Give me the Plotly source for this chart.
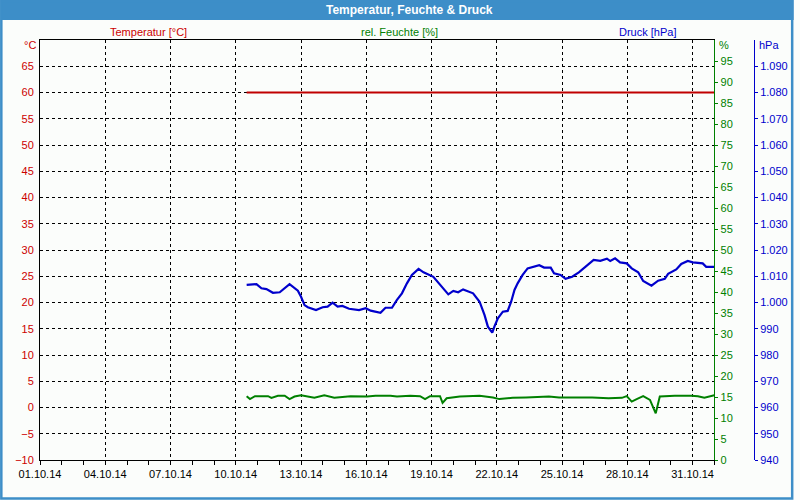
import plotly.graph_objects as go
from datetime import datetime

# ---------------- data ----------------
temp_times = ["2014-10-10 12:00", "2014-11-01 00:00"]
temp_values = [60, 60]

hum_times = [
    "2014-10-10 12:00", "2014-10-10 15:40", "2014-10-10 21:10", "2014-10-11 11:40",
    "2014-10-11 15:20", "2014-10-11 22:30", "2014-10-12 06:00", "2014-10-12 11:20",
    "2014-10-12 16:50", "2014-10-13 00:00", "2014-10-13 14:40", "2014-10-14 01:40",
    "2014-10-14 12:40", "2014-10-15 06:40", "2014-10-16 01:00", "2014-10-16 10:10",
    "2014-10-17 02:40", "2014-10-17 09:50", "2014-10-18 00:30", "2014-10-18 11:20",
    "2014-10-18 16:50", "2014-10-18 22:20", "2014-10-19 09:20", "2014-10-19 12:10",
    "2014-10-19 16:40", "2014-10-20 07:10", "2014-10-21 05:00", "2014-10-21 19:40",
    "2014-10-22 02:50", "2014-10-22 17:30", "2014-10-23 08:10", "2014-10-24 09:30",
    "2014-10-24 20:40", "2014-10-26 09:10", "2014-10-27 03:20", "2014-10-27 18:00",
    "2014-10-27 23:20", "2014-10-28 04:50", "2014-10-28 10:20", "2014-10-28 17:30",
    "2014-10-29 01:00", "2014-10-29 07:20", "2014-10-29 11:50", "2014-10-30 04:20",
    "2014-10-30 22:30", "2014-10-31 05:50", "2014-10-31 13:00", "2014-11-01 00:00",
]
hum_values = [
    15.2, 14.5, 15.2, 15.2, 14.8, 15.3, 15.3, 14.5,
    15.1, 15.4, 14.8, 15.4, 14.8, 15.2, 15.1, 15.3,
    15.3, 15.1, 15.3, 15.2, 14.5, 15.2, 15.2, 13.6,
    14.7, 15.1, 15.3, 14.9, 14.5, 14.8, 14.9, 15.1,
    14.9, 14.9, 14.7, 14.8, 15.2, 13.9, 14.5, 15.2,
    14.3, 11.1, 15.1, 15.3, 15.3, 15.2, 14.8, 15.4,
]

pres_times = [
    "2014-10-10 12:00", "2014-10-10 22:50", "2014-10-11 04:20", "2014-10-11 09:50",
    "2014-10-11 17:00", "2014-10-12 00:30", "2014-10-12 11:20", "2014-10-12 15:00",
    "2014-10-12 20:30", "2014-10-13 00:00", "2014-10-13 03:50", "2014-10-13 07:30",
    "2014-10-13 16:30", "2014-10-13 23:50", "2014-10-14 05:20", "2014-10-14 10:50",
    "2014-10-14 16:20", "2014-10-14 21:40", "2014-10-15 05:00", "2014-10-15 16:00",
    "2014-10-15 23:20", "2014-10-16 04:50", "2014-10-16 15:40", "2014-10-16 21:10",
    "2014-10-17 04:20", "2014-10-17 09:50", "2014-10-17 15:20", "2014-10-17 20:50",
    "2014-10-18 02:20", "2014-10-18 09:40", "2014-10-18 15:10", "2014-10-19 02:00",
    "2014-10-19 09:20", "2014-10-19 18:30", "2014-10-20 00:00", "2014-10-20 05:20",
    "2014-10-20 10:50", "2014-10-20 21:50", "2014-10-21 05:00", "2014-10-21 10:30",
    "2014-10-21 14:10", "2014-10-21 19:00", "2014-10-21 21:20", "2014-10-22 01:10",
    "2014-10-22 06:40", "2014-10-22 12:00", "2014-10-22 15:50", "2014-10-22 19:30",
    "2014-10-22 23:00", "2014-10-23 04:30", "2014-10-23 10:00", "2014-10-23 15:30",
    "2014-10-23 22:50", "2014-10-24 04:10", "2014-10-24 11:30", "2014-10-24 15:10",
    "2014-10-24 22:20", "2014-10-25 03:50", "2014-10-25 11:10", "2014-10-25 18:30",
    "2014-10-26 01:40", "2014-10-26 10:50", "2014-10-26 18:10", "2014-10-27 01:30",
    "2014-10-27 05:10", "2014-10-27 10:30", "2014-10-27 16:00", "2014-10-27 23:20",
    "2014-10-28 04:50", "2014-10-28 12:00", "2014-10-28 17:30", "2014-10-29 02:40",
    "2014-10-29 10:00", "2014-10-29 17:20", "2014-10-29 21:00", "2014-10-30 06:00",
    "2014-10-30 11:30", "2014-10-30 18:40", "2014-10-31 00:20", "2014-10-31 11:10",
    "2014-10-31 15:00", "2014-11-01 00:00",
]
pres_values = [
    1006.7, 1007.0, 1005.4, 1005.1, 1003.7, 1003.9, 1007.0, 1006.0,
    1004.5, 1002.2, 999.0, 998.2, 997.1, 998.2, 998.4, 999.9,
    998.4, 998.7, 997.6, 997.1, 997.8, 996.9, 996.1, 998.0,
    998.0, 1001.0, 1003.5, 1007.3, 1010.5, 1012.8, 1011.5, 1009.8,
    1006.7, 1003.1, 1004.4, 1003.9, 1005.0, 1003.5, 1000.3, 995.2,
    990.8, 988.5, 990.8, 994.0, 996.5, 996.8, 1000.3, 1004.8,
    1007.3, 1010.5, 1013.0, 1013.6, 1014.2, 1013.3, 1013.3, 1011.1,
    1010.5, 1009.0, 1009.8, 1011.5, 1013.6, 1016.2, 1015.9, 1016.7,
    1015.8, 1016.8, 1015.3, 1014.9, 1013.0, 1011.5, 1008.2, 1006.4,
    1008.3, 1009.0, 1010.9, 1012.6, 1014.7, 1015.8, 1015.3, 1014.9,
    1013.6, 1013.6,
]

x_tick_labels = ["01.10.14", "04.10.14", "07.10.14", "10.10.14", "13.10.14", "16.10.14",
                 "19.10.14", "22.10.14", "25.10.14", "28.10.14", "31.10.14"]
temp_ticks = list(range(-10, 70, 5))
hum_ticks = list(range(0, 100, 5))
pres_ticks = list(range(940, 1100, 10))

title_text = "Temperatur, Feuchte & Druck"
series_names = ["Temperatur [°C]", "rel. Feuchte [%]", "Druck [hPa]"]
unit_labels = ["°C", "%", "hPa"]

# ---------------- styles ----------------
RED = "#cc0000"
GREEN = "#008000"
BLUE = "#0000cc"
FRAME_BLUE = "#3d8ec8"
BG = "#fbfdfb"
FONT = "Liberation Sans"

W, H = 800, 500
ML, MR, MT, MB = 40, 40, 40, 40
PW = W - ML - MR
PH = H - MT - MB


def px_x(px):
    return (px - ML) / PW


def px_y(py):
    return (H - MB - py) / PH


x_tick_vals = [datetime.strptime(s, "%d.%m.%y") for s in x_tick_labels]

fig = go.Figure()
fig.add_trace(go.Scatter(x=temp_times, y=temp_values, mode="lines", yaxis="y",
                         line=dict(color="#c00000", width=2), showlegend=False,
                         hoverinfo="skip"))
fig.add_trace(go.Scatter(x=hum_times, y=hum_values, mode="lines", yaxis="y2",
                         line=dict(color=GREEN, width=2), showlegend=False,
                         hoverinfo="skip"))
fig.add_trace(go.Scatter(x=pres_times, y=pres_values, mode="lines", yaxis="y3",
                         line=dict(color=BLUE, width=2.2), showlegend=False,
                         hoverinfo="skip"))

fig.update_layout(
    width=W, height=H,
    margin=dict(l=ML, r=MR, t=MT, b=MB),
    paper_bgcolor=BG, plot_bgcolor=BG,
    separators=",.",
    hovermode=False,
    font=dict(family=FONT, size=11, color="black"),
    xaxis=dict(
        type="date", domain=[0, px_x(720)],
        range=["2014-10-01 00:00", "2014-11-01 00:00"],
        tickmode="array", tickvals=x_tick_vals, ticktext=x_tick_labels,
        ticks="outside", ticklen=4, tickcolor="black",
        minor=dict(dtick=86400000, tick0="2014-10-01", ticks="outside",
                   ticklen=4, tickcolor="black", showgrid=False),
        showgrid=True, gridcolor="black", gridwidth=1, griddash="3px,3px",
        showline=True, linecolor="black", linewidth=1, mirror=True,
        zeroline=False, tickfont=dict(color="black", size=11),
    ),
    yaxis=dict(
        range=[-10, 70], tickmode="array", tickvals=temp_ticks,
        ticks="", showgrid=True, gridcolor="black", gridwidth=1, griddash="3px,3px",
        showline=True, linecolor="black", linewidth=1, zeroline=False,
        tickfont=dict(color=RED, size=11), ticklabelstandoff=3,
    ),
    yaxis2=dict(
        overlaying="y", side="right", anchor="x",
        range=[0, 100], tickmode="array", tickvals=hum_ticks,
        ticks="outside", ticklen=3, tickcolor=GREEN,
        showgrid=False, showline=True, linecolor=GREEN, linewidth=1, zeroline=False,
        tickfont=dict(color=GREEN, size=11),
    ),
    yaxis3=dict(
        overlaying="y", side="right", anchor="free", position=1,
        range=[940, 1100], tickmode="array", tickvals=pres_ticks, tickformat=",d",
        ticks="outside", ticklen=3, tickcolor=BLUE,
        showgrid=False, showline=True, linecolor=BLUE, linewidth=1, zeroline=False,
        tickfont=dict(color=BLUE, size=11),
    ),
)

# frame: title bar and border
fig.add_shape(type="rect", xref="paper", yref="paper", layer="below",
              x0=px_x(0), x1=px_x(W), y0=px_y(20), y1=px_y(0),
              fillcolor=FRAME_BLUE, line=dict(width=0))
fig.add_shape(type="rect", xref="paper", yref="paper", layer="above",
              x0=px_x(1), x1=px_x(W - 1.5), y0=px_y(H - 1.5), y1=px_y(1),
              fillcolor="rgba(0,0,0,0)", line=dict(color=FRAME_BLUE, width=2.5))

fig.add_annotation(text="<b>" + title_text + "</b>", xref="paper", yref="paper",
                   x=px_x(413), y=px_y(10), showarrow=False,
                   xanchor="center", yanchor="middle",
                   font=dict(family=FONT, size=12, color="white"))

series_colors = [RED, GREEN, BLUE]
series_centers = [149, 403, 653]
for name, col, cx in zip(series_names, series_colors, series_centers):
    fig.add_annotation(text=name, xref="paper", yref="paper",
                       x=px_x(cx), y=px_y(32), showarrow=False,
                       xanchor="center", yanchor="middle",
                       font=dict(family=FONT, size=11, color=col))

unit_pos = [(37, "right"), (724, "left"), (764, "left")]
for lab, col, (ux, anc) in zip(unit_labels, series_colors, unit_pos):
    fig.add_annotation(text=lab, xref="paper", yref="paper",
                       x=px_x(ux), y=px_y(45), showarrow=False,
                       xanchor=anc, yanchor="middle", borderpad=0,
                       font=dict(family=FONT, size=11, color=col))

fig.write_html("out.html", config={"displayModeBar": False, "staticPlot": True},
               post_script="document.body.style.margin='0px';document.body.style.overflow='hidden';")
